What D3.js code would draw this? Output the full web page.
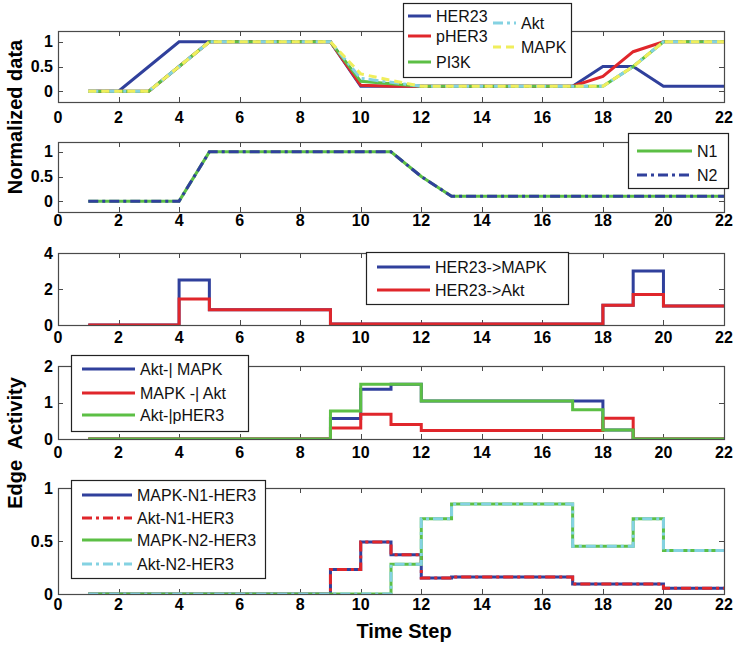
<!DOCTYPE html>
<html>
<head>
<meta charset="utf-8">
<script src="https://cdn.jsdelivr.net/npm/d3@7"></script>
<style>
  html, body { margin: 0; padding: 0; background: #fff; }
  svg { display: block; font-family: "Liberation Sans", Arial, sans-serif; }
</style>
</head>
<body>
<div id="container"></div>
<script>
// time steps on the x axis
const timeSteps = [1, 2, 3, 4, 5, 6, 7, 8, 9, 10, 11, 12, 13, 14, 15, 16, 17, 18, 19, 20, 21, 22]
const xTicks = [0, 2, 4, 6, 8, 10, 12, 14, 16, 18, 20, 22]

// panel 1 - normalized node data
const her23 = [0, 0, 0.5, 1, 1, 1, 1, 1, 1, 0.1, 0.1, 0.1, 0.1, 0.1, 0.1, 0.1, 0.1, 0.5, 0.5, 0.1, 0.1, 0.1]
const pher3 = [0, 0, 0, 0.5, 1, 1, 1, 1, 1, 0.12, 0.1, 0.1, 0.1, 0.1, 0.1, 0.1, 0.1, 0.3, 0.8, 1, 1, 1]
const pi3k = [0, 0, 0, 0.5, 1, 1, 1, 1, 1, 0.2, 0.15, 0.1, 0.1, 0.1, 0.1, 0.1, 0.1, 0.1, 0.5, 1, 1, 1]
const akt = [0, 0, 0, 0.5, 1, 1, 1, 1, 1, 0.26, 0.18, 0.1, 0.1, 0.1, 0.1, 0.1, 0.1, 0.1, 0.5, 1, 1, 1]
const mapk = [0, 0, 0, 0.5, 1, 1, 1, 1, 1, 0.35, 0.22, 0.1, 0.1, 0.1, 0.1, 0.1, 0.1, 0.1, 0.5, 1, 1, 1]

// panel 2 - N1 / N2
const n1 = [0, 0, 0, 0, 1, 1, 1, 1, 1, 1, 1, 0.5, 0.1, 0.1, 0.1, 0.1, 0.1, 0.1, 0.1, 0.1, 0.1, 0.1]
const n2 = [0, 0, 0, 0, 1, 1, 1, 1, 1, 1, 1, 0.5, 0.1, 0.1, 0.1, 0.1, 0.1, 0.1, 0.1, 0.1, 0.1, 0.1]

// panel 3 - edge activity (stairs)
const her23Mapk = [0, 0, 0, 2.5, 0.85, 0.85, 0.85, 0.85, 0.05, 0.05, 0.05, 0.05, 0.05, 0.05, 0.05, 0.05, 0.05, 1.1, 3, 1.05, 1.05, 1.05]
const her23Akt = [0, 0, 0, 1.45, 0.85, 0.85, 0.85, 0.85, 0.05, 0.05, 0.05, 0.05, 0.05, 0.05, 0.05, 0.05, 0.05, 1.1, 1.7, 1.05, 1.05, 1.05]

// panel 4
const aktMapk = [0, 0, 0, 0, 0, 0, 0, 0, 0.56, 1.36, 1.5, 1.04, 1.04, 1.04, 1.04, 1.04, 1.04, 0.25, 0, 0, 0, 0]
const mapkAkt = [0, 0, 0, 0, 0, 0, 0, 0, 0.3, 0.68, 0.4, 0.23, 0.23, 0.23, 0.23, 0.23, 0.23, 0.57, 0, 0, 0, 0]
const aktPher3 = [0, 0, 0, 0, 0, 0, 0, 0, 0.77, 1.5, 1.5, 1.04, 1.04, 1.04, 1.04, 1.04, 0.8, 0.25, 0, 0, 0, 0]

// panel 5
const mapkN1Her3 = [0, 0, 0, 0, 0, 0, 0, 0, 0.23, 0.49, 0.37, 0.15, 0.16, 0.16, 0.16, 0.16, 0.095, 0.095, 0.095, 0.055, 0.055, 0.055]
const aktN1Her3 = [0, 0, 0, 0, 0, 0, 0, 0, 0.23, 0.49, 0.37, 0.15, 0.16, 0.16, 0.16, 0.16, 0.095, 0.095, 0.095, 0.055, 0.055, 0.055]
const mapkN2Her3 = [0, 0, 0, 0, 0, 0, 0, 0, 0, 0, 0.28, 0.71, 0.85, 0.85, 0.85, 0.85, 0.45, 0.45, 0.71, 0.41, 0.41, 0.41]
const aktN2Her3 = [0, 0, 0, 0, 0, 0, 0, 0, 0, 0, 0.28, 0.71, 0.85, 0.85, 0.85, 0.85, 0.45, 0.45, 0.71, 0.41, 0.41, 0.41]

const width = 735
const height = 645

const color = {
  blue: '#30409c',
  red: '#e0262b',
  green: '#5cbf45',
  cyan: '#84d2e2',
  yellow: '#f0ee5c'
}
// matlab-ish line styles
const dash = {
  solid: null,
  dashdot: '10,4,3,4',
  dashed: '8,5'
}

// layout of each axes box + its legend
const panels = [
  {
    top: 31, bottom: 102, yDomain: [-0.22, 1.22], yTicks: [0, 0.5, 1], labelY: 117, step: false,
    series: [
      { name: 'HER23', values: her23, color: color.blue, dash: dash.solid },
      { name: 'pHER3', values: pher3, color: color.red, dash: dash.solid },
      { name: 'PI3K', values: pi3k, color: color.green, dash: dash.solid },
      { name: 'Akt', values: akt, color: color.cyan, dash: dash.dashdot },
      { name: 'MAPK', values: mapk, color: color.yellow, dash: dash.dashed }
    ],
    legend: { x: 403, y: 3, w: 168, h: 74,
      items: [[408, 16], [408, 36], [408, 62], [493, 23], [493, 47]], lineLen: 23 }
  },
  {
    top: 142, bottom: 212, yDomain: [-0.22, 1.2], yTicks: [0, 0.5, 1], labelY: 220, step: false,
    series: [
      { name: 'N1', values: n1, color: color.green, dash: dash.solid },
      { name: 'N2', values: n2, color: color.blue, dash: dash.dashdot }
    ],
    legend: { x: 628, y: 133, w: 100, h: 55,
      items: [[637, 151], [637, 175]], lineLen: 55 }
  },
  {
    top: 253, bottom: 325, yDomain: [0, 4], yTicks: [0, 2, 4], labelY: 337, step: true,
    series: [
      { name: 'HER23->MAPK', values: her23Mapk, color: color.blue, dash: dash.solid },
      { name: 'HER23->Akt', values: her23Akt, color: color.red, dash: dash.solid }
    ],
    legend: { x: 366, y: 252, w: 202, h: 52,
      items: [[377, 267], [377, 290]], lineLen: 53 }
  },
  {
    top: 366, bottom: 439, yDomain: [0, 2], yTicks: [0, 1, 2], labelY: 452, step: true,
    series: [
      { name: 'Akt-| MAPK', values: aktMapk, color: color.blue, dash: dash.solid },
      { name: 'MAPK -| Akt', values: mapkAkt, color: color.red, dash: dash.solid },
      { name: 'Akt-|pHER3', values: aktPher3, color: color.green, dash: dash.solid }
    ],
    legend: { x: 71, y: 355, w: 177, h: 76,
      items: [[82, 369], [82, 393], [82, 415]], lineLen: 53 }
  },
  {
    top: 488, bottom: 594, yDomain: [0, 1], yTicks: [0, 0.5, 1], labelY: 604, step: true,
    series: [
      { name: 'MAPK-N1-HER3', values: mapkN1Her3, color: color.blue, dash: dash.solid },
      { name: 'Akt-N1-HER3', values: aktN1Her3, color: color.red, dash: dash.dashdot },
      { name: 'MAPK-N2-HER3', values: mapkN2Her3, color: color.green, dash: dash.solid },
      { name: 'Akt-N2-HER3', values: aktN2Her3, color: color.cyan, dash: dash.dashdot }
    ],
    legend: { x: 71, y: 480, w: 194, h: 98,
      items: [[82, 495], [82, 518], [82, 540], [82, 564]], lineLen: 50 }
  }
]

const left = 58
const right = 724
const x = d3.scaleLinear().domain([0, 22]).range([left, right])

const svg = d3.select('#container')
  .append('svg')
  .attr('width', width)
  .attr('height', height)

const boxColor = '#4a4a4a'
const tickLen = 5

panels.forEach((p, pi) => {
  const y = d3.scaleLinear().domain(p.yDomain).range([p.bottom, p.top])
  const g = svg.append('g').attr('class', 'panel' + pi)

  // clip so lines stay inside the box
  const clipId = 'clip' + pi
  g.append('clipPath').attr('id', clipId)
    .append('rect')
    .attr('x', left).attr('y', p.top - 2)
    .attr('width', right - left).attr('height', p.bottom - p.top + 2)

  // ticks on all four sides (box on)
  const ticks = g.append('g').attr('stroke', boxColor).attr('stroke-width', 1)
  xTicks.forEach(t => {
    const xp = Math.round(x(t)) + 0.5
    ticks.append('line').attr('x1', xp).attr('x2', xp).attr('y1', p.bottom).attr('y2', p.bottom - tickLen)
    ticks.append('line').attr('x1', xp).attr('x2', xp).attr('y1', p.top).attr('y2', p.top + tickLen)
  })
  p.yTicks.forEach(t => {
    const yp = Math.round(y(t)) + 0.5
    ticks.append('line').attr('x1', left).attr('x2', left + tickLen).attr('y1', yp).attr('y2', yp)
    ticks.append('line').attr('x1', right).attr('x2', right - tickLen).attr('y1', yp).attr('y2', yp)
  })

  // tick labels
  g.selectAll('.xlab')
    .data(xTicks)
    .enter().append('text')
    .attr('class', 'xlab')
    .attr('x', d => x(d))
    .attr('y', p.labelY)
    .attr('text-anchor', 'middle')
    .attr('dominant-baseline', 'central')
    .attr('font-size', 16)
    .attr('font-weight', 'bold')
    .text(d => d)

  g.selectAll('.ylab')
    .data(p.yTicks)
    .enter().append('text')
    .attr('class', 'ylab')
    .attr('x', left - 5)
    .attr('y', d => y(d))
    .attr('text-anchor', 'end')
    .attr('dominant-baseline', 'central')
    .attr('font-size', 16)
    .attr('font-weight', 'bold')
    .text(d => d)

  // data lines
  const line = d3.line()
    .x((d, i) => x(timeSteps[i]))
    .y(d => y(d))
    .curve(p.step ? d3.curveStepAfter : d3.curveLinear)

  const lines = g.append('g').attr('clip-path', `url(#${clipId})`)
  p.series.forEach(s => {
    lines.append('path')
      .attr('d', line(s.values))
      .attr('fill', 'none')
      .attr('stroke', s.color)
      .attr('stroke-width', 3)
      .attr('stroke-dasharray', s.dash)
  })

  // axes box
  g.append('rect')
    .attr('x', left + 0.5).attr('y', p.top + 0.5)
    .attr('width', right - left).attr('height', p.bottom - p.top)
    .attr('fill', 'none')
    .attr('stroke', boxColor)
    .attr('stroke-width', 1.2)

  // legend
  const lg = p.legend
  const leg = g.append('g')
  leg.append('rect')
    .attr('x', lg.x + 0.5).attr('y', lg.y + 0.5)
    .attr('width', lg.w).attr('height', lg.h)
    .attr('fill', '#fff')
    .attr('stroke', '#222')
    .attr('stroke-width', 1.2)
  p.series.forEach((s, i) => {
    const [lx, ly] = lg.items[i]
    leg.append('line')
      .attr('x1', lx).attr('x2', lx + lg.lineLen)
      .attr('y1', ly).attr('y2', ly)
      .attr('stroke', s.color)
      .attr('stroke-width', 3)
      .attr('stroke-dasharray', s.dash)
    leg.append('text')
      .attr('x', lx + lg.lineLen + 5)
      .attr('y', ly)
      .attr('dominant-baseline', 'central')
      .attr('font-size', 16)
      .attr('fill', '#111')
      .text(s.name)
  })
})

// axis titles
svg.append('text')
  .attr('transform', 'translate(15,117) rotate(-90)')
  .attr('text-anchor', 'middle')
  .attr('dominant-baseline', 'central')
  .attr('font-size', 20)
  .attr('font-weight', 'bold')
  .text('Normalized data')

svg.append('text')
  .attr('transform', 'translate(15,443) rotate(-90)')
  .attr('text-anchor', 'middle')
  .attr('dominant-baseline', 'central')
  .attr('font-size', 20)
  .attr('font-weight', 'bold')
  .style('white-space', 'pre')
  .text('Edge  Activity')

svg.append('text')
  .attr('x', 404)
  .attr('y', 631)
  .attr('text-anchor', 'middle')
  .attr('dominant-baseline', 'central')
  .attr('font-size', 20)
  .attr('font-weight', 'bold')
  .text('Time Step')
</script>
</body>
</html>
